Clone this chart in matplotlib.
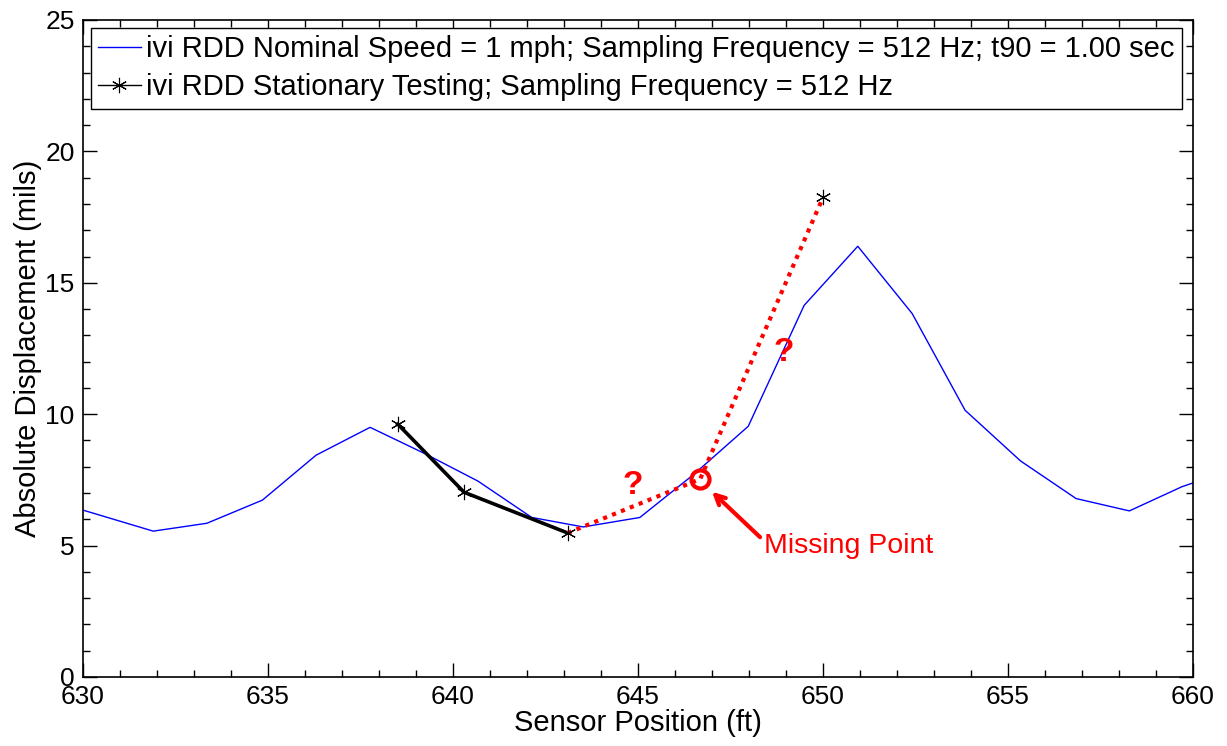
import numpy as np
import matplotlib.pyplot as plt
from matplotlib.ticker import MultipleLocator

plt.rcParams['font.family'] = ['Liberation Sans', 'DejaVu Sans']

# rolling (moving) measurement, 1 mph
pos_roll = [630.0, 631.9, 633.35, 634.85, 636.3, 637.76, 639.24, 640.68, 642.13, 643.52,
            645.05, 646.5, 647.98, 649.49, 650.94, 652.41, 653.84, 655.34, 656.84, 658.28,
            659.7, 661.2]
disp_roll = [6.35, 5.55, 5.85, 6.73, 8.44, 9.5, 8.5, 7.45, 6.07, 5.71,
             6.07, 7.7, 9.54, 14.14, 16.39, 13.83, 10.15, 8.22, 6.79, 6.32,
             7.24, 7.96]

# stationary testing
pos_stat = [638.51, 640.3, 643.1]
disp_stat = [9.62, 7.03, 5.48]

# dotted guess through the missing point
pos_guess = [643.1, 646.68, 650.0]
disp_guess = [5.48, 7.53, 18.25]
pos_missing = 646.68
disp_missing = 7.53

fig = plt.figure(figsize=(12.27, 7.46), dpi=100)
ax = fig.add_axes([0.0676, 0.0925, 0.9047, 0.8807])

ax.plot(pos_roll, disp_roll, color='#0000ff', lw=1.0,
        label='ivi RDD Nominal Speed = 1 mph; Sampling Frequency = 512 Hz; t90 = 1.00 sec')
ax.plot(pos_stat, disp_stat, color='k', lw=2.6)
ax.plot(pos_guess, disp_guess, color='red', lw=3, linestyle=(0, (1, 1.3)))
ax.plot(pos_stat + [pos_guess[-1]], disp_stat + [disp_guess[-1]], linestyle='none',
        marker=(6, 2, 0), ms=11, mec='k', mew=0.8, color='k')
ax.plot([], [], color='k', lw=1, marker=(6, 2, 0), ms=11, mew=0.8,
        label='ivi RDD Stationary Testing; Sampling Frequency = 512 Hz')
ax.plot([pos_missing], [disp_missing], marker='o', ms=13, mfc='none', mec='red', mew=3)

# question marks and note
ax.text(644.87, 7.3, '?', color='red', fontsize=24, fontweight='bold', ha='center', va='center')
ax.text(648.95, 12.36, '?', color='red', fontsize=24, fontweight='bold', ha='center', va='center')
ax.annotate('', xy=(647.0, 7.05), xytext=(648.3, 5.32),
            arrowprops=dict(arrowstyle='->,head_length=0.7,head_width=0.35', color='red', lw=3,
                            shrinkA=0, shrinkB=0))
ax.text(648.41, 4.98, 'Missing Point', color='red', fontsize=20.5, ha='left', va='center')

ax.set_xlim(630, 660)
ax.set_ylim(0, 25)
ax.xaxis.set_major_locator(MultipleLocator(5))
ax.xaxis.set_minor_locator(MultipleLocator(1))
ax.yaxis.set_major_locator(MultipleLocator(5))
ax.yaxis.set_minor_locator(MultipleLocator(1))
ax.tick_params(which='both', direction='in', top=True, right=True, labelsize=19)
ax.tick_params(which='major', length=10, width=1)
ax.tick_params(which='minor', length=5, width=1)
ax.tick_params(axis='x', pad=6)
ax.tick_params(axis='y', pad=6)
for s in ax.spines.values():
    s.set_linewidth(1.2)

ax.set_xlabel('Sensor Position (ft)', fontsize=21, labelpad=0)
ax.set_ylabel('Absolute Displacement (mils)', fontsize=21, labelpad=2)

leg = ax.legend(loc='upper left', bbox_to_anchor=(0.0072, 0.988), fontsize=21,
                handlelength=1.45, handletextpad=0.2, borderaxespad=0, borderpad=0.25,
                labelspacing=0.35, fancybox=False, framealpha=1, edgecolor='k')
leg.get_frame().set_linewidth(1.0)

fig.savefig('out.png', dpi=100)
